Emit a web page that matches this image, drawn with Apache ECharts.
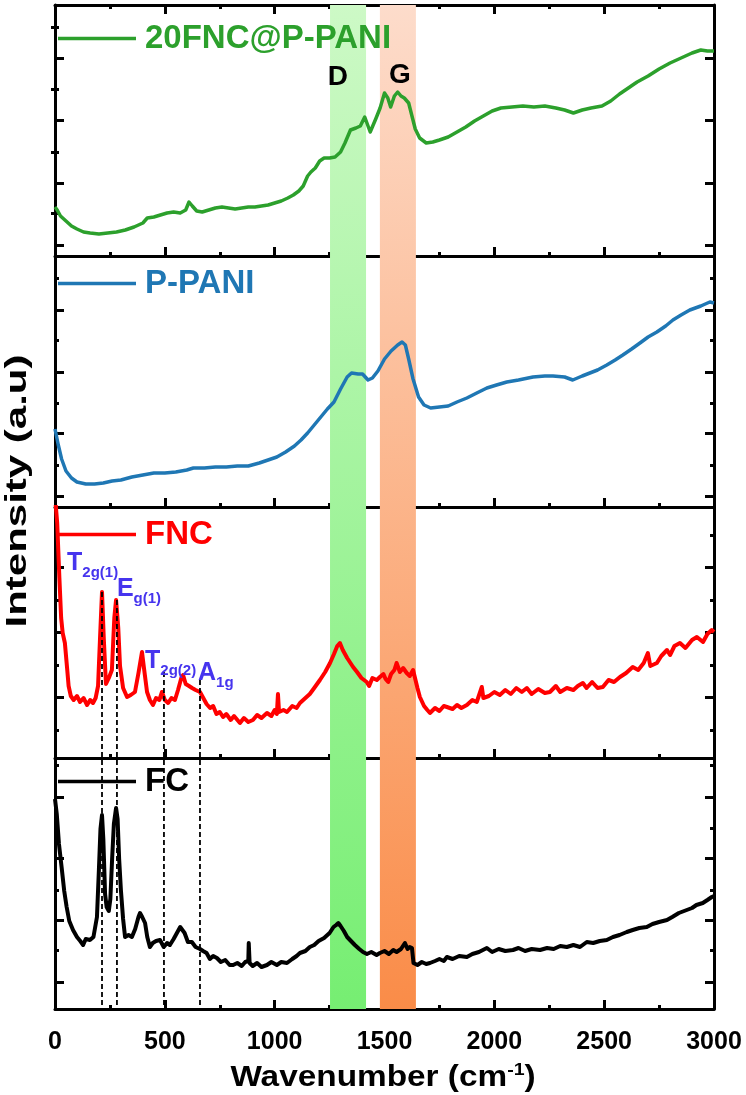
<!DOCTYPE html>
<html>
<head>
<meta charset="utf-8">
<script src="https://cdn.jsdelivr.net/npm/echarts@6/dist/echarts.min.js"></script>
<style>
html,body{margin:0;padding:0;background:#fff;}
#c{width:746px;height:1095px;}
</style>
</head>
<body>
<div id="c"></div>
<script>
// ---------------- data (intensity in arbitrary units per panel) ----------------
const seriesNames = ['20FNC@P-PANI', 'P-PANI', 'FNC', 'FC'];
const seriesColors = ['#2ca02c', '#1f77b4', '#ff0000', '#000000'];
const seriesWidths = [3.5, 3.5, 4, 4];

const wnGreen = [0,10,25,50,75,100,130,160,200,240,280,320,360,400,420,450,480,510,540,570,595,610,625,645,670,700,730,760,790,820,850,880,910,940,970,1000,1030,1060,1085,1110,1130,1150,1165,1185,1205,1225,1250,1275,1300,1320,1345,1370,1390,1410,1435,1460,1480,1500,1515,1528,1545,1560,1575,1590,1610,1625,1640,1660,1690,1720,1750,1790,1830,1870,1910,1950,1990,2030,2080,2130,2180,2230,2280,2320,2360,2400,2440,2490,2530,2570,2610,2650,2700,2750,2800,2850,2900,2940,2970,3000];
const intGreen = [49,46,40,35,30,27,24,23,22,23,24,26,29,33,38,39,41,43,44,43,46,54,50,45,44,46,48,49,48,47,48,49,49,50,51,53,55,58,61,65,70,80,84,88,95,98,98,99,104,113,126,128,130,139,124,137,148,163,158,149,160,164,160,158,153,140,127,118,113,114,116,119,124,129,135,140,145,148,149,150,149,150,148,146,143,146,148,150,155,162,168,174,180,187,193,198,203,206,205,205];

const wnBlue = [0,15,30,50,75,100,140,180,220,260,300,350,400,450,500,550,600,630,680,730,780,830,880,930,970,1010,1050,1090,1120,1150,1180,1210,1240,1270,1300,1330,1350,1380,1400,1425,1445,1470,1500,1530,1560,1580,1595,1610,1630,1655,1680,1710,1750,1790,1830,1875,1920,1966,2010,2057,2110,2176,2230,2267,2320,2357,2400,2435,2470,2512,2550,2585,2625,2663,2700,2740,2780,2813,2850,2890,2940,2981,3000];
const intBlue = [78,62,48,36,29,25,23,23,24,26,27,30,32,34,34,35,37,39,39,40,40,41,41,44,47,50,55,61,67,74,82,90,98,105,118,130,134,133,133,127,129,136,148,156,162,165,162,148,128,110,102,99,100,101,105,109,114,119,122,125,127,130,131,131,130,127,131,134,137,142,147,152,158,164,170,175,181,187,192,197,201,205,204];

const wnRed = [0,10,20,28,35,45,55,62,72,85,100,114,130,146,160,173,185,196,205,214,222,232,245,259,270,278,288,296,310,328,345,364,380,396,405,419,432,446,460,475,487,500,515,530,546,560,575,583,595,610,624,640,660,675,690,706,720,735,750,765,780,800,815,842,860,880,901,920,940,965,985,1000,1010,1015,1020,1040,1056,1080,1100,1115,1140,1160,1180,1206,1230,1252,1270,1285,1297,1310,1330,1357,1375,1395,1419,1430,1445,1465,1479,1495,1505,1517,1530,1545,1555,1570,1585,1601,1615,1630,1639,1650,1661,1680,1695,1707,1730,1750,1770,1784,1810,1830,1850,1875,1900,1920,1943,1950,1975,2000,2025,2050,2075,2100,2125,2148,2170,2200,2230,2253,2280,2300,2330,2360,2380,2403,2420,2445,2470,2494,2520,2545,2572,2600,2630,2655,2680,2699,2710,2740,2760,2786,2800,2820,2845,2870,2900,2922,2950,2970,2990,3000];
const intRed = [262,235,180,140,125,115,90,72,62,58,62,56,60,53,58,55,60,72,120,166,120,74,80,88,140,158,130,92,70,61,63,66,85,106,90,66,58,53,60,58,66,58,55,60,58,68,80,83,74,72,70,68,66,60,54,50,52,44,46,41,44,38,42,35,40,36,38,43,40,45,42,48,44,64,46,48,46,52,50,55,60,64,70,78,86,95,104,112,115,108,100,91,86,80,76,72,80,78,81,84,79,76,84,88,95,86,90,85,82,88,89,70,61,52,48,45,50,47,52,51,49,53,50,53,58,56,71,60,62,66,63,68,64,70,66,70,64,69,65,66,72,66,70,68,72,75,70,76,70,71,78,76,81,85,91,88,95,105,92,95,102,108,103,112,115,110,118,121,116,124,128,126];

const wnBlack = [0,8,18,30,42,53,65,82,100,115,128,140,159,175,191,200,207,214,220,228,235,245,252,260,268,278,285,292,300,310,319,335,350,365,380,387,397,410,420,432,445,460,478,495,510,523,540,555,570,578,590,605,623,640,660,674,690,705,720,737,755,775,795,811,830,850,866,880,882,886,900,920,940,965,985,1010,1030,1056,1080,1100,1115,1140,1160,1180,1200,1225,1250,1268,1280,1290,1300,1315,1330,1343,1365,1385,1402,1420,1440,1464,1479,1500,1520,1540,1555,1575,1593,1605,1615,1625,1632,1650,1670,1690,1707,1730,1750,1770,1784,1810,1840,1875,1900,1930,1966,1990,2020,2050,2085,2110,2140,2170,2208,2240,2270,2300,2330,2360,2390,2421,2450,2480,2512,2540,2570,2603,2630,2660,2694,2720,2750,2786,2810,2840,2876,2900,2920,2949,2970,2990,3000];
const intBlack = [210,195,165,142,118,102,88,79,72,68,64,70,69,72,92,140,180,194,170,115,102,98,110,150,185,201,190,150,119,90,72,74,72,80,92,96,92,86,72,62,66,68,69,62,66,64,70,76,82,82,76,67,67,62,60,58,56,50,53,51,47,49,44,44,46,43,47,48,66,46,43,46,42,44,47,44,47,46,50,53,56,58,62,64,68,71,76,82,84,86,83,78,72,69,64,60,57,55,57,54,56,58,55,59,57,60,66,60,62,61,46,44,47,45,46,48,50,48,52,50,53,52,55,57,61,57,60,58,59,61,58,60,59,61,60,63,62,64,62,67,66,68,69,72,74,77,79,81,82,85,87,89,92,96,99,101,104,106,109,112,113];

// x axis ticks
const xMin = 0, xMax = 3000, xInterval = 500;
// y ticks per panel (arbitrary units)
const yMajorTicks = [[11,73,136,198],[11,74,135,197],[60.5,125.5,190.5],[27,89,151,212]];
const yMinorTicks = [[43,104,167,229],[42,104,167,229],[28,93,158,223],[59,119,181,244]];
const yMax = 251;

// D / G bands (cm-1)
const bandD = [1252, 1416];
const bandG = [1479, 1643];
const bandLabels = ['D', 'G'];
const bandLabelWn = [1288, 1570];
const bandLabelY = [179, 181];

// Raman mode labels (FNC panel)
const modeMain = ['T', 'E', 'T', 'A'];
const modeSub = ['2g(1)', 'g(1)', '2g(2)', '1g'];
const modeWn = [55, 282, 410, 651];
const modeY = [212, 186, 114, 102];

// dashed guide lines (overlay units: 0 = bottom of lowest panel)
const dashWn = [214, 282, 496, 660];
const dashTop = [417, 409, 337, 329];

// ---------------- layout ----------------
const FONT = 'Liberation Sans, Arial, Helvetica, sans-serif';
const gridTops = [5, 256, 507, 758];
const gridH = 251;
const gLeft = 55, gRight = 32;
const legendOffsets = [17, 11, 11, 7];

const chart = echarts.init(document.getElementById('c'), null, {renderer: 'canvas'});

const grids = [], xAxes = [], yAxes = [], series = [], legends = [];
const seriesData = [
  [wnGreen, intGreen], [wnBlue, intBlue], [wnRed, intRed], [wnBlack, intBlack]
];

for (let i = 0; i < 4; i++) {
  grids.push({left: gLeft, right: gRight, top: gridTops[i], height: gridH, containLabel: false});
  xAxes.push({
    type: 'value', gridIndex: i, min: xMin, max: xMax, interval: xInterval, position: 'bottom',
    axisLine: {show: true, onZero: false, lineStyle: {color: '#000', width: 3}},
    axisTick: {show: true, inside: true, length: 9, lineStyle: {color: '#000', width: 3}},
    minorTick: {show: true, splitNumber: 2, length: 4, lineStyle: {color: '#000', width: 3}},
    axisLabel: {show: i === 3, color: '#000', fontSize: 25, fontWeight: 'bold', fontFamily: FONT, margin: 21,
      formatter: v => String(v)},
    splitLine: {show: false}, minorSplitLine: {show: false}
  });
}
xAxes.push({
  type: 'value', gridIndex: 0, min: xMin, max: xMax, interval: xInterval, position: 'top',
  axisLine: {show: true, onZero: false, lineStyle: {color: '#000', width: 3}},
  axisTick: {show: true, inside: true, length: 9, lineStyle: {color: '#000', width: 3}},
  minorTick: {show: true, splitNumber: 2, length: 4, lineStyle: {color: '#000', width: 3}},
  axisLabel: {show: false}, splitLine: {show: false}
});
xAxes.push({type: 'value', gridIndex: 4, min: xMin, max: xMax, show: false});
const overlayXIdx = xAxes.length - 1;

for (let i = 0; i < 4; i++) {
  for (const pos of ['left', 'right']) {
    yAxes.push({
      type: 'value', gridIndex: i, min: 0, max: yMax, position: pos,
      axisLine: {show: true, onZero: false, lineStyle: {color: '#000', width: 3}},
      axisTick: {show: true, inside: true, length: 9, customValues: yMajorTicks[i], lineStyle: {color: '#000', width: 3}},
      axisLabel: {show: false}, splitLine: {show: false}
    });
    yAxes.push({
      type: 'value', gridIndex: i, min: 0, max: yMax, position: pos,
      axisLine: {show: false},
      axisTick: {show: true, inside: true, length: 4, customValues: yMinorTicks[i], lineStyle: {color: '#000', width: 3}},
      axisLabel: {show: false}, splitLine: {show: false}
    });
  }
}
grids.push({left: gLeft, right: gRight, top: gridTops[0], bottom: 1095 - (gridTops[3] + gridH)});
const overlayH = gridTops[3] + gridH - gridTops[0];
yAxes.push({type: 'value', gridIndex: 4, min: 0, max: overlayH, show: false});
const overlayYIdx = yAxes.length - 1;

series.push({
  type: 'line', xAxisIndex: overlayXIdx, yAxisIndex: overlayYIdx, data: [], z: -1, silent: true,
  markArea: {
    silent: true,
    data: [
      [{xAxis: bandD[0], yAxis: 0, itemStyle: {opacity: 1, color: new echarts.graphic.LinearGradient(0, 0, 0, 1, [
        {offset: 0, color: '#cdf9c6'}, {offset: 1, color: '#76ee72'}])}}, {xAxis: bandD[1], yAxis: overlayH}],
      [{xAxis: bandG[0], yAxis: 0, itemStyle: {opacity: 1, color: new echarts.graphic.LinearGradient(0, 0, 0, 1, [
        {offset: 0, color: '#fddccb'}, {offset: 1, color: '#fa8c48'}])}}, {xAxis: bandG[1], yAxis: overlayH}]
    ]
  }
});

for (let k = 0; k < dashWn.length; k++) {
  series.push({
    type: 'line', xAxisIndex: overlayXIdx, yAxisIndex: overlayYIdx, showSymbol: false, silent: true, z: 5,
    data: [[dashWn[k], dashTop[k]], [dashWn[k], 2]],
    lineStyle: {color: '#000', width: 1.8, type: [5, 3]}
  });
}

for (let i = 0; i < 4; i++) {
  const [xs, ys] = seriesData[i];
  series.push({
    name: seriesNames[i], type: 'line', xAxisIndex: i, yAxisIndex: i * 4,
    data: xs.map((x, j) => [x, ys[j]]), showSymbol: false, symbol: 'none', z: 3,
    lineStyle: {color: seriesColors[i], width: seriesWidths[i], join: 'round'}, itemStyle: {color: seriesColors[i]}, clip: true
  });
  legends.push({
    data: [seriesNames[i]], left: 58, top: gridTops[i] + legendOffsets[i], orient: 'horizontal', padding: 0,
    itemWidth: 78, itemHeight: 3.5, itemGap: 0, icon: 'rect', selectedMode: false,
    itemStyle: {color: seriesColors[i]},
    textStyle: {color: seriesColors[i], fontSize: 33, fontWeight: 'bold', fontFamily: FONT, padding: [0, 0, 0, 4]}
  });
}

series.push({
  type: 'scatter', xAxisIndex: 0, yAxisIndex: 0, symbolSize: 0, silent: true, z: 6,
  itemStyle: {opacity: 1},
  data: bandLabels.map((t, k) => ({name: t, value: [bandLabelWn[k], bandLabelY[k]]})),
  label: {show: true, position: [0, 0], align: 'center', verticalAlign: 'middle', formatter: p => p.name,
    color: '#000', opacity: 1, fontSize: 28, fontWeight: 'bold', fontFamily: FONT}
});

const modeColor = '#4634ee';
series.push({
  type: 'scatter', xAxisIndex: 2, yAxisIndex: 8, symbolSize: 0, silent: true, z: 6,
  itemStyle: {opacity: 1},
  data: modeMain.map((t, k) => ({name: '{m|' + t + '}{s|' + modeSub[k] + '}', value: [modeWn[k], modeY[k]]})),
  label: {show: true, position: [0, 0], align: 'left', verticalAlign: 'top', formatter: p => p.name, opacity: 1,
    rich: {
      m: {color: modeColor, fontSize: 25, fontWeight: 'bold', fontFamily: FONT, lineHeight: 34},
      s: {color: modeColor, fontSize: 15, fontWeight: 'bold', fontFamily: FONT, lineHeight: 15, padding: [19, 0, 0, 0]}
    }}
});

const option = {
  backgroundColor: '#fff',
  animation: false,
  grid: grids, xAxis: xAxes, yAxis: yAxes, series: series, legend: legends,
  graphic: [
    {type: 'text', x: 383, y: 1078, scaleX: 1.15, z: 10,
      style: {text: '{a|Wavenumber (cm}{b|-1}{a|)}', align: 'center', verticalAlign: 'middle',
        rich: {
          a: {fontSize: 29, fontWeight: 'bold', fontFamily: FONT, fill: '#000', lineHeight: 32},
          b: {fontSize: 17, fontWeight: 'bold', fontFamily: FONT, fill: '#000', lineHeight: 17, padding: [0, 0, 15, 0]}
        }}},
    {type: 'text', x: 18, y: 491, rotation: Math.PI / 2, scaleX: 1.4, z: 10,
      style: {text: 'Intensity (a.u)', align: 'center', verticalAlign: 'middle',
        fontSize: 30, fontWeight: 'bold', fontFamily: FONT, fill: '#000'}}
  ]
};
chart.setOption(option);
</script>
</body>
</html>
